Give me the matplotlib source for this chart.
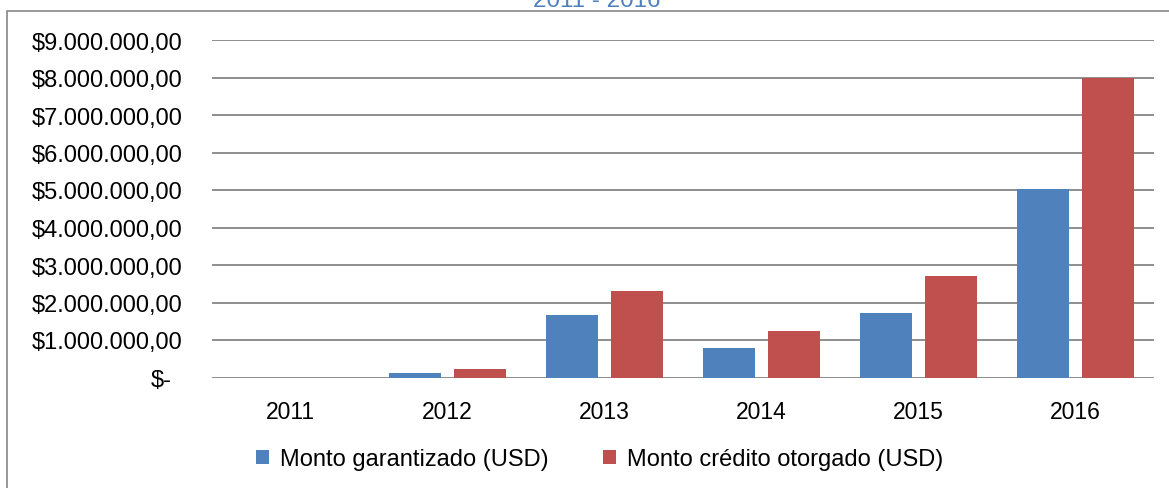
import matplotlib
matplotlib.use("Agg")
import matplotlib.pyplot as plt
import matplotlib.transforms as mtransforms
from matplotlib.patches import Patch, Rectangle
import numpy as np

plt.rcParams['font.family'] = ['Liberation Sans', 'DejaVu Sans']

years = ['2011', '2012', '2013', '2014', '2015', '2016']
monto_garantizado = [0, 125000, 1680000, 790000, 1730000, 5040000]
monto_credito = [0, 225000, 2300000, 1240000, 2700000, 8000000]
series_names = ['Monto garantizado (USD)', 'Monto crédito otorgado (USD)']
y_ticks = [0, 1e6, 2e6, 3e6, 4e6, 5e6, 6e6, 7e6, 8e6, 9e6]
y_tick_labels = ['$-', '$1.000.000,00', '$2.000.000,00', '$3.000.000,00',
                 '$4.000.000,00', '$5.000.000,00', '$6.000.000,00',
                 '$7.000.000,00', '$8.000.000,00', '$9.000.000,00']
title = '2011 - 2016'

BLUE = '#4F81BD'
RED = '#C0504D'
GRID = '#868686'

W, H = 1169, 489
fig = plt.figure(figsize=(W / 100, H / 100), dpi=100)

# chart area border
fig.patches.append(Rectangle((7 / W, -0.1), 1.2, (H - 12) / H + 0.1,
                             transform=fig.transFigure, fill=False,
                             edgecolor=GRID, linewidth=1.2, zorder=0))

left, right = 212 / W, 1154 / W
bottom, top = (H - 378.5) / H, (H - 41) / H
ax = fig.add_axes([left, bottom, right - left, top - bottom])

x = np.arange(len(years))
bw = 52 / 157
off = 32.5 / 157
ax.bar(x - off, monto_garantizado, bw, color=BLUE, zorder=3, label=series_names[0])
ax.bar(x + off, monto_credito, bw, color=RED, zorder=3, label=series_names[1])

ax.set_xlim(-0.5, len(years) - 0.5)
ax.set_ylim(0, 9e6)
ax.set_yticks(y_ticks)
ax.set_yticklabels(y_tick_labels)
ax.set_xticks(x)
ax.set_xticklabels(years)
for s in ax.spines.values():
    s.set_visible(False)
ax.yaxis.grid(True, color=GRID, linewidth=1.3, zorder=1)
ax.set_axisbelow(True)
ax.tick_params(axis='y', length=0, pad=21, labelsize=17)
ax.tick_params(axis='x', length=0, pad=16, labelsize=16.5)

# shift "$-" left (accounting format)
lab0 = ax.get_yticklabels()[0]
lab0.set_transform(lab0.get_transform() + mtransforms.ScaledTranslation(-11 / 100, 0, fig.dpi_scale_trans))

fig.text(597 / W, (H - 7) / H, title, ha='center', va='baseline', color=BLUE, fontsize=17.4)

handles = [Patch(facecolor=BLUE, edgecolor='none'), Patch(facecolor=RED, edgecolor='none')]
fig.legend(handles, series_names, loc='center', bbox_to_anchor=(600 / W, 29 / H),
           ncol=2, frameon=False, fontsize=17, handlelength=0.55, handleheight=0.55,
           handletextpad=0.47, columnspacing=2.3)

fig.savefig('out.png', dpi=100)
